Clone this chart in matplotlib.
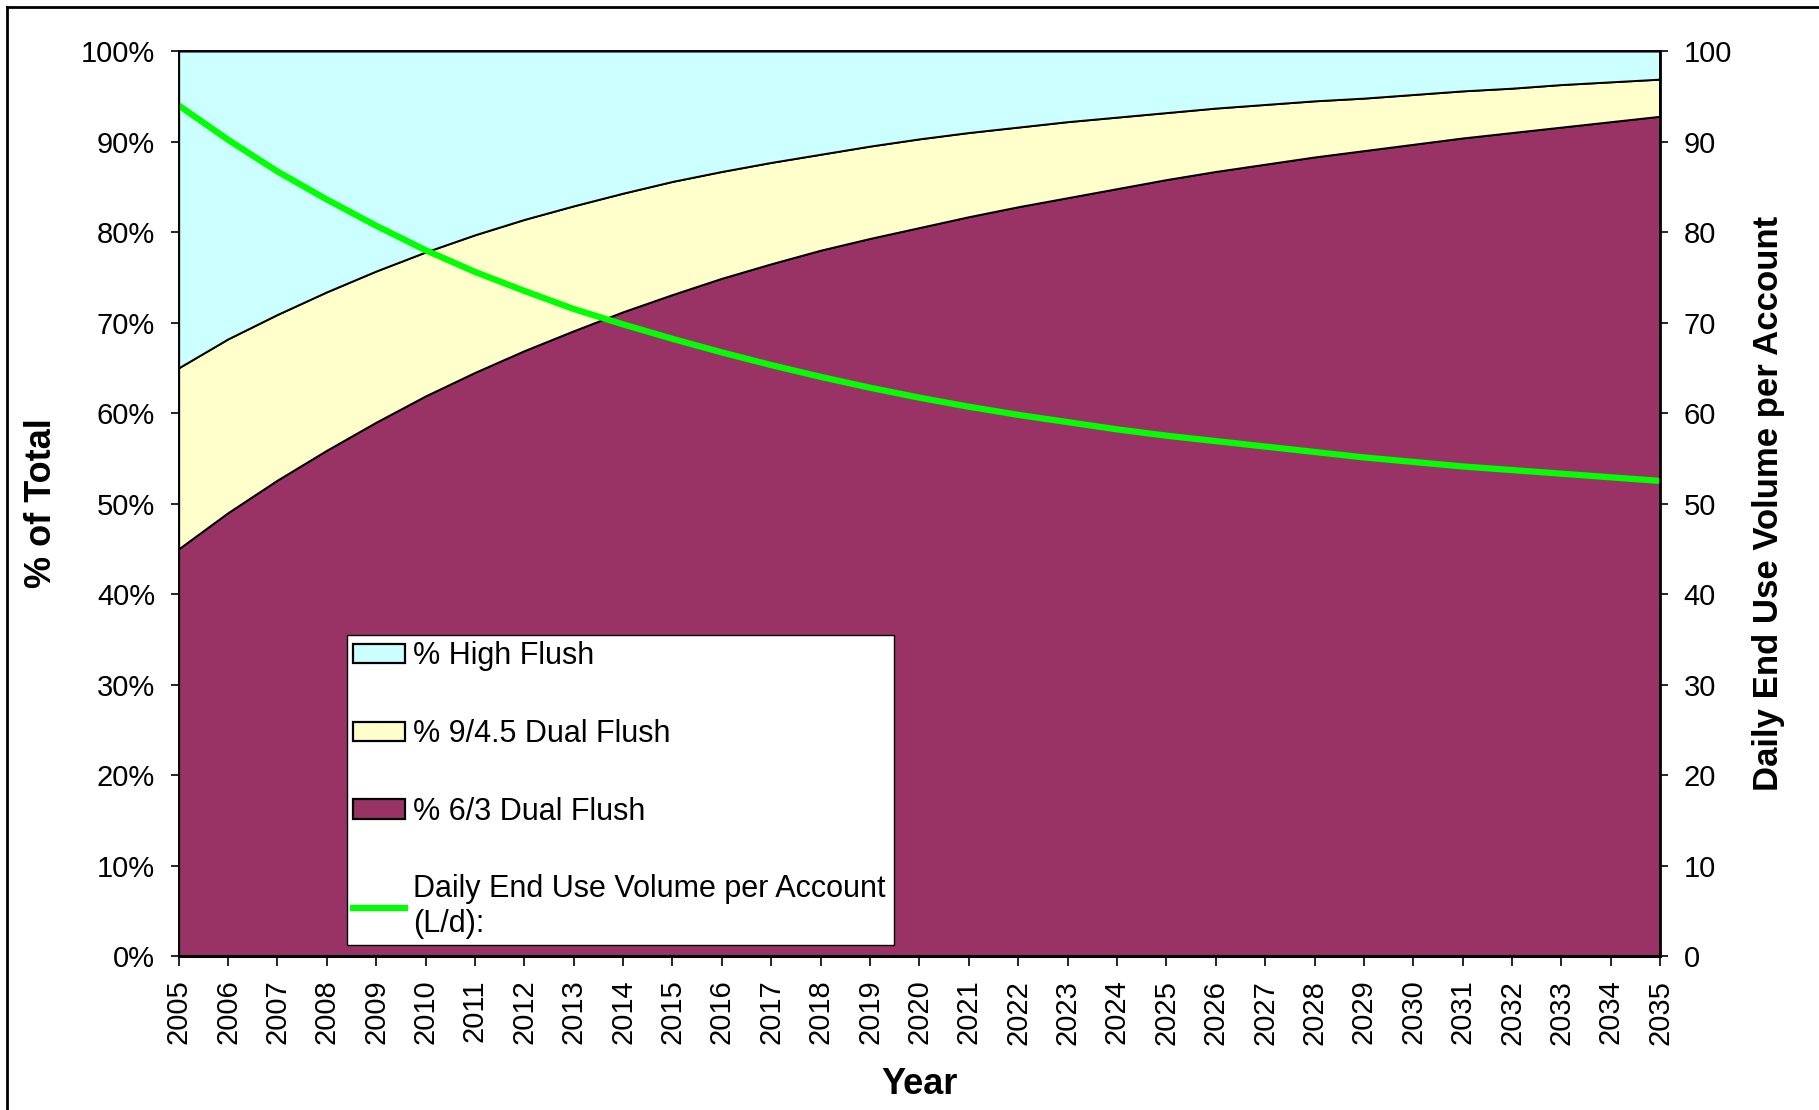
import matplotlib
matplotlib.use("Agg")
import matplotlib.pyplot as plt
from matplotlib.patches import Patch
from matplotlib.lines import Line2D

plt.rcParams['font.family'] = ['Liberation Sans', 'DejaVu Sans']

# values (percent of total toilets, L/d per account)
years = list(range(2005, 2036))
pct_dual_63 = [45, 49, 52.6, 55.9, 59, 61.9, 64.5, 66.9, 69.1, 71.2, 73.1, 74.9, 76.5, 78, 79.3, 80.5,
               81.7, 82.8, 83.8, 84.8, 85.8, 86.7, 87.5, 88.3, 89, 89.7, 90.4, 91, 91.6, 92.2, 92.8]
pct_dual_945 = [20, 19.2, 18.3, 17.5, 16.7, 15.9, 15.2, 14.5, 13.8, 13.1, 12.5, 11.8, 11.2, 10.6, 10.2, 9.8,
                9.3, 8.8, 8.4, 7.9, 7.4, 7.0, 6.6, 6.2, 5.8, 5.5, 5.2, 4.9, 4.7, 4.4, 4.1]
pct_high = [35, 31.8, 29.1, 26.6, 24.3, 22.2, 20.3, 18.6, 17.1, 15.7, 14.4, 13.3, 12.3, 11.4, 10.5, 9.7,
            9.0, 8.4, 7.8, 7.3, 6.8, 6.3, 5.9, 5.5, 5.2, 4.8, 4.4, 4.1, 3.7, 3.4, 3.1]
daily_volume = [94.0, 90.2, 86.7, 83.6, 80.7, 78.0, 75.6, 73.5, 71.5, 69.8, 68.2, 66.7, 65.3, 64.0, 62.8, 61.7,
                60.7, 59.8, 59.0, 58.2, 57.5, 56.9, 56.3, 55.7, 55.1, 54.6, 54.1, 53.7, 53.3, 52.9, 52.5]

labels = ['% High Flush', '% 9/4.5 Dual Flush', '% 6/3 Dual Flush',
          'Daily End Use Volume per Account\n(L/d):']
colors = ['#CCFFFF', '#FFFFCC', '#993366']
green = '#00FF00'

fig = plt.figure(figsize=(18.19, 11.10), dpi=100)
ax = fig.add_axes([0.0982, 0.1387, 0.8145, 0.8153])

ax.stackplot(years, pct_dual_63, pct_dual_945, pct_high,
             colors=[colors[2], colors[1], colors[0]], edgecolor='black', linewidth=1.4)
ax.set_xlim(2005, 2035)
ax.set_ylim(0, 100)
ax.set_yticks(range(0, 101, 10))
ax.set_yticklabels(['%d%%' % v for v in range(0, 101, 10)])
ax.set_xticks(years)
ax.set_xticklabels([str(y) for y in years], rotation=90)
ax.tick_params(axis='y', labelsize=21, length=6, width=1.2, direction='out', pad=11)
ax.tick_params(axis='x', labelsize=21, length=7, width=1.2, direction='out', pad=10)
ax.set_ylabel('% of Total', fontsize=26, fontweight='bold', labelpad=16)
ax.set_xlabel('Year', fontsize=26, fontweight='bold', labelpad=16)
for s in ax.spines.values():
    s.set_linewidth(1.4)
ax.spines['bottom'].set_linewidth(2.2)

ax2 = ax.twinx()
ax2.plot(years, daily_volume, color=green, linewidth=4.5)
ax2.set_ylim(0, 100)
ax2.set_yticks(range(0, 101, 10))
ax2.tick_params(axis='y', labelsize=21, length=6, width=1.2, direction='out', pad=11)
ax2.set_ylabel('Daily End Use Volume per Account', fontsize=25, fontweight='bold', labelpad=14)
ax2.spines['right'].set_linewidth(2.0)

handles = [Patch(facecolor=colors[0], edgecolor='black', linewidth=1.6),
           Patch(facecolor=colors[1], edgecolor='black', linewidth=1.6),
           Patch(facecolor=colors[2], edgecolor='black', linewidth=1.6),
           Line2D([0], [0], color=green, linewidth=4.5)]
leg = ax2.legend(handles, labels, loc='lower left', bbox_to_anchor=(0.1136, 0.012, 0.3694, 0.338),
                 mode='expand', fontsize=22, frameon=True, fancybox=False, framealpha=1,
                 edgecolor='black', labelspacing=1.56, handlelength=1.7, handleheight=0.6,
                 handletextpad=0.25, borderaxespad=0, borderpad=0.2)
leg.get_frame().set_linewidth(1.0)

# chart area border (top and left edges visible in the original)
fig.add_artist(Line2D([0.004, 1.0], [0.9937, 0.9937], color='black', linewidth=2))
fig.add_artist(Line2D([0.004, 0.004], [0.0, 0.9937], color='black', linewidth=2))

fig.savefig('out.png', dpi=100)
